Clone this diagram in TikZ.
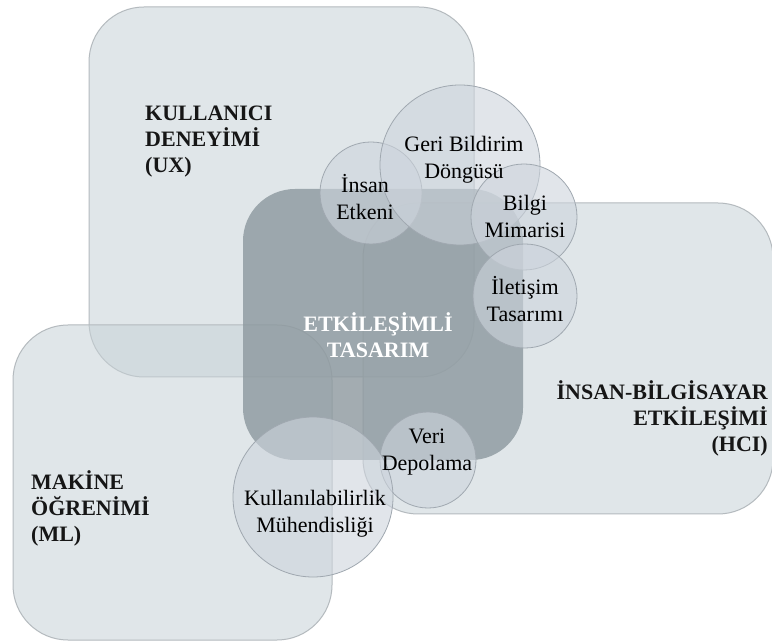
\documentclass[tikz,border=0pt]{standalone}
\usepackage{fontspec}
\setmainfont{Liberation Serif}
\definecolor{boxfill}{RGB}{200,210,215}
\definecolor{boxline}{RGB}{180,186,190}
\definecolor{corefill}{RGB}{140,152,158}
\definecolor{bubblefill}{RGB}{205,212,220}
\definecolor{bubbleline}{RGB}{160,168,176}
\definecolor{titletext}{RGB}{22,22,22}
\begin{document}
\begin{tikzpicture}[x=1pt,y=-1pt,
  area/.style={rectangle, draw=boxline, line width=1pt, fill=boxfill,
    fill opacity=0.55, rounded corners=55pt, inner sep=0pt},
  core/.style={rectangle, fill=corefill, fill opacity=0.8,
    rounded corners=52pt, inner sep=0pt},
  bubble/.style={circle, draw=bubbleline, line width=0.8pt, fill=bubblefill,
    fill opacity=0.6, inner sep=0pt},
  heading/.style={font=\fontsize{22}{26}\selectfont\bfseries, text=titletext, inner sep=0pt},
  label/.style={font=\fontsize{22}{27}\selectfont, text=black, align=center, inner sep=0pt}]
\useasboundingbox (0,0) rectangle (772,644);
\fill[white] (0,0) rectangle (772,644);

% the three fields
\node[area, minimum width=385pt, minimum height=370pt] (ux) at (281.5,192) {};
\node[area, minimum width=319pt, minimum height=315pt] (ml) at (172.5,482.5) {};
\node[area, minimum width=410pt, minimum height=311pt] (hci) at (568,358.5) {};

% the shared core
\node[core, minimum width=280pt, minimum height=271pt] (core) at (383,324.5) {};

% topic bubbles
\node[bubble, minimum size=102pt] (human) at (371,193) {};
\node[bubble, minimum size=160pt] (feedback) at (460,165) {};
\node[bubble, minimum size=106pt] (infoarch) at (524,217) {};
\node[bubble, minimum size=104pt] (commdesign) at (525,296) {};
\node[bubble, minimum size=96pt] (storage) at (428,460) {};
\node[bubble, minimum size=160pt] (usability) at (313,497) {};

% field headings
\node[heading, anchor=west, align=left] (uxt) at (145,142) {KULLANICI\\DENEYİMİ\\(UX)};
\node[heading, anchor=west, align=left] (mlt) at (31,508) {MAKİNE\\ÖĞRENİMİ\\(ML)};
\node[heading, anchor=east, align=right] (hcit) at (768,418) {İNSAN-BİLGİSAYAR\\ETKİLEŞİMİ\\(HCI)};
\node[heading, text=white, align=center] (coret) at (378,335) {ETKİLEŞİMLİ\\TASARIM};

% bubble labels
\node[label] (humant) at (365,197) {İnsan\\Etkeni};
\node[label] (feedbackt) at (464,160) {Geri Bildirim\\Döngüsü};
\node[label] (infoarcht) at (525,216) {Bilgi\\Mimarisi};
\node[label] (commdesignt) at (525,299) {İletişim\\Tasarımı};
\node[label] (storaget) at (427,452) {Veri\\Depolama};
\node[label] (usabilityt) at (315,514) {Kullanılabilirlik\\Mühendisliği};
\end{tikzpicture}
\end{document}
